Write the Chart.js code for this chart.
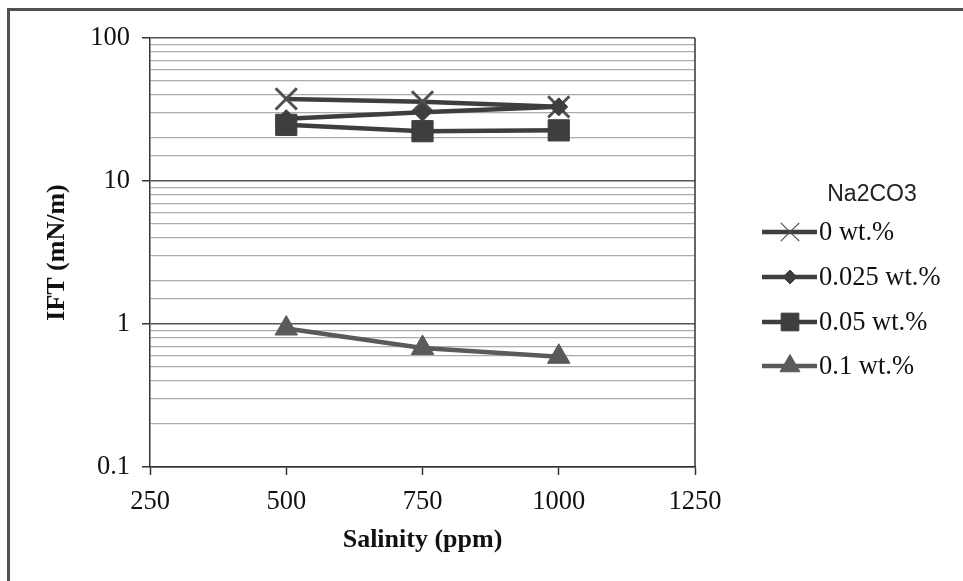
<!DOCTYPE html>
<html>
<head>
<meta charset="utf-8">
<script src="https://cdn.jsdelivr.net/npm/chart.js@4.4.0/dist/chart.umd.min.js"></script>
<style>
    html, body { margin: 0; padding: 0; background: #fff; }
    #wrap { width: 963px; height: 581px; }
</style>
</head>
<body>
<div id="wrap"><canvas id="iftChart" width="963" height="581"></canvas></div>
<script>
// Salinity (ppm) on x, IFT (mN/m) on a log y axis
const salinity = [500, 750, 1000];
const ift0 = [37.5, 35.8, 33.0];      // 0 wt.%
const ift025 = [27.3, 30.3, 33.0];    // 0.025 wt.%
const ift05 = [24.7, 22.3, 22.6];     // 0.05 wt.%
const ift1 = [0.93, 0.68, 0.59];      // 0.1 wt.%
const seriesNames = ['0 wt.%', '0.025 wt.%', '0.05 wt.%', '0.1 wt.%'];
const xTicks = [250, 500, 750, 1000, 1250];
const yTicks = [0.1, 1, 10, 100];

const toPoints = (ys) => salinity.map((x, i) => ({ x: x, y: ys[i] }));

const serif = "'Liberation Serif', 'Times New Roman', serif";
const isMajor = (v) => yTicks.some(t => Math.abs(v - t) < t * 1e-6);

// frame, right edge of the plot and the legend
const decorPlugin = {
    id: 'decor',
    beforeDraw(chart) {
        const ctx = chart.ctx;
        ctx.save();
        ctx.fillStyle = '#ffffff';
        ctx.fillRect(0, 0, chart.width, chart.height);
        ctx.strokeStyle = '#505050';
        ctx.lineWidth = 3;
        ctx.beginPath();
        ctx.moveTo(8.5, chart.height);
        ctx.lineTo(8.5, 9.5);
        ctx.lineTo(chart.width, 9.5);
        ctx.stroke();
        ctx.restore();
    },
    afterDraw(chart) {
        const ctx = chart.ctx;
        const area = chart.chartArea;
        ctx.save();
        ctx.strokeStyle = '#333333';
        ctx.lineWidth = 1.5;
        ctx.beginPath();
        ctx.moveTo(area.right, area.top);
        ctx.lineTo(area.right, area.bottom);
        ctx.stroke();

        // legend
        ctx.fillStyle = '#222222';
        ctx.font = "23px 'Liberation Sans', Arial, sans-serif";
        ctx.textAlign = 'center';
        ctx.textBaseline = 'middle';
        ctx.fillText('Na2CO3', 872, 195);

        const rows = [232, 277, 322, 366];
        const legendRadius = [13, 7, 12.5, 11.5];
        chart.data.datasets.forEach((ds, i) => {
            const y = rows[i];
            ctx.strokeStyle = ds.borderColor;
            ctx.lineWidth = ds.borderWidth;
            ctx.beginPath();
            ctx.moveTo(762, y);
            ctx.lineTo(817, y);
            ctx.stroke();
            ctx.fillStyle = ds.pointBackgroundColor;
            ctx.strokeStyle = ds.pointBorderColor;
            ctx.lineWidth = ds.legendMarkerWidth;
            Chart.helpers.drawPoint(ctx, {
                pointStyle: ds.pointStyle,
                radius: legendRadius[i],
                rotation: 0,
                borderWidth: ds.legendMarkerWidth
            }, 790, y);
            ctx.fillStyle = '#111111';
            ctx.font = '26.5px ' + serif;
            ctx.textAlign = 'left';
            ctx.fillText(ds.label, 819, y + 1);
        });
        ctx.restore();
    }
};

const ctx = document.getElementById('iftChart');
new Chart(ctx, {
    type: 'scatter',
    data: {
        datasets: [{
            label: seriesNames[0],
            data: toPoints(ift0),
            showLine: true,
            borderColor: '#3e3e3e',
            borderWidth: 4.5,
            pointStyle: 'crossRot',
            pointRadius: 15,
            pointBorderWidth: 3,
            pointBorderColor: '#505050',
            pointBackgroundColor: '#505050',
            legendMarkerWidth: 1.2,
            order: 3
        }, {
            label: seriesNames[1],
            data: toPoints(ift025),
            showLine: true,
            borderColor: '#3e3e3e',
            borderWidth: 4.5,
            pointStyle: 'rectRot',
            pointRadius: 9,
            pointBorderWidth: 1,
            pointBorderColor: '#3e3e3e',
            pointBackgroundColor: '#3e3e3e',
            legendMarkerWidth: 1,
            order: 2
        }, {
            label: seriesNames[2],
            data: toPoints(ift05),
            showLine: true,
            borderColor: '#3e3e3e',
            borderWidth: 4.5,
            pointStyle: 'rect',
            pointRadius: 15,
            pointBorderWidth: 1,
            pointBorderColor: '#3e3e3e',
            pointBackgroundColor: '#3e3e3e',
            legendMarkerWidth: 1,
            order: 1
        }, {
            label: seriesNames[3],
            data: toPoints(ift1),
            showLine: true,
            borderColor: '#5a5a5a',
            borderWidth: 4.5,
            pointStyle: 'triangle',
            pointRadius: 13,
            pointBorderWidth: 1,
            pointBorderColor: '#5a5a5a',
            pointBackgroundColor: '#5a5a5a',
            legendMarkerWidth: 1,
            order: 0
        }]
    },
    options: {
        responsive: false,
        animation: false,
        devicePixelRatio: 1,
        layout: {
            padding: { left: 0, top: 38, right: 268, bottom: 0 }
        },
        plugins: {
            legend: { display: false },
            tooltip: { enabled: false }
        },
        scales: {
            x: {
                type: 'linear',
                min: xTicks[0],
                max: xTicks[xTicks.length - 1],
                afterFit(scale) { scale.height = 114; },
                afterBuildTicks(scale) {
                    scale.ticks = xTicks.map(v => ({ value: v }));
                },
                grid: {
                    drawOnChartArea: false,
                    drawTicks: true,
                    tickLength: 8,
                    tickColor: '#333333',
                    tickWidth: 1.5
                },
                border: { display: true, color: '#333333', width: 1.5 },
                ticks: {
                    color: '#111111',
                    padding: 11,
                    font: { family: serif, size: 26.5 },
                    callback: (v) => String(v)
                },
                title: {
                    display: true,
                    text: 'Salinity (ppm)',
                    color: '#111111',
                    font: { family: serif, size: 26, weight: 'bold' },
                    padding: { top: 0, bottom: 25 }
                }
            },
            y: {
                type: 'logarithmic',
                min: yTicks[0],
                max: yTicks[yTicks.length - 1],
                afterFit(scale) { scale.width = 150; },
                grid: {
                    color: (c) => isMajor(c.tick.value) ? '#555555' : '#ababab',
                    lineWidth: (c) => isMajor(c.tick.value) ? 1.5 : 1.2,
                    tickLength: 8,
                    tickColor: (c) => isMajor(c.tick.value) ? '#333333' : 'rgba(0,0,0,0)',
                    tickWidth: 1.5
                },
                border: { display: true, color: '#333333', width: 1.5 },
                ticks: {
                    autoSkip: false,
                    color: '#111111',
                    padding: 12,
                    font: { family: serif, size: 26.5 },
                    callback: (v) => isMajor(v) ? String(v) : ''
                },
                title: {
                    display: true,
                    text: 'IFT (mN/m)',
                    color: '#111111',
                    font: { family: serif, size: 26, weight: 'bold' },
                    padding: { top: 42, bottom: 0 }
                }
            }
        }
    },
    plugins: [decorPlugin]
});
</script>
</body>
</html>
